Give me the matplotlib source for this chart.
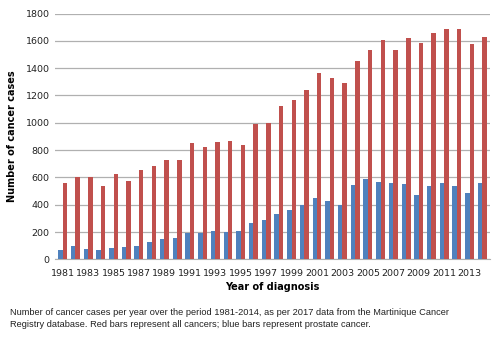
import numpy as np
import matplotlib
matplotlib.use('Agg')
import matplotlib.pyplot as plt

years = list(range(1981, 2015))
all_cancers = [560, 605, 605, 540, 625, 575, 655, 685, 730, 725,
               855, 820, 860, 865, 840, 990, 1000, 1125, 1170, 1240,
               1365, 1330, 1290, 1455, 1535, 1605, 1535, 1620, 1585, 1655,
               1690, 1690, 1575, 1625]
prostate = [65, 95, 75, 65, 80, 90, 95, 125, 150, 155,
            195, 195, 210, 200, 210, 265, 290, 330, 360, 395,
            450, 425, 395, 545, 585, 565, 560, 550, 470, 535,
            560, 535, 485, 560]
tick_years = years[::2]

fig = plt.figure(figsize=(5.0, 3.39), dpi=100)
ax = fig.add_axes([0.11, 0.235, 0.87, 0.725])

x = np.arange(len(years))
w = 0.35
ax.bar(x - w / 2, prostate, width=w, color='#4F81BD', zorder=3)
ax.bar(x + w / 2, all_cancers, width=w, color='#C0504D', zorder=3)

ax.set_ylim(0, 1800)
ax.set_yticks(range(0, 1801, 200))
ax.set_xlim(-0.6, len(years) - 0.4)
ax.set_xticks(x[::2])
ax.set_xticklabels([str(y) for y in tick_years])
ax.yaxis.grid(True, color='#B0B0B0', linewidth=0.9, zorder=0)
for s in ['top', 'right', 'left']:
    ax.spines[s].set_visible(False)
ax.spines['bottom'].set_color('#B0B0B0')
ax.tick_params(axis='both', length=0, labelsize=6.8, colors='#222222', pad=4)
ax.tick_params(axis='x', pad=7)

ax.set_xlabel('Year of diagnosis', fontsize=7, fontweight='bold', labelpad=3)
ax.set_ylabel('Number of cancer cases', fontsize=7, fontweight='bold', labelpad=6)

fig.text(0.02, 0.06,
         'Number of cancer cases per year over the period 1981-2014, as per 2017 data from the Martinique Cancer\n'
         'Registry database. Red bars represent all cancers; blue bars represent prostate cancer.',
         fontsize=6.7, color='#222222', family='Liberation Sans', linespacing=1.45, va='center')

fig.savefig('out.png', dpi=100)
